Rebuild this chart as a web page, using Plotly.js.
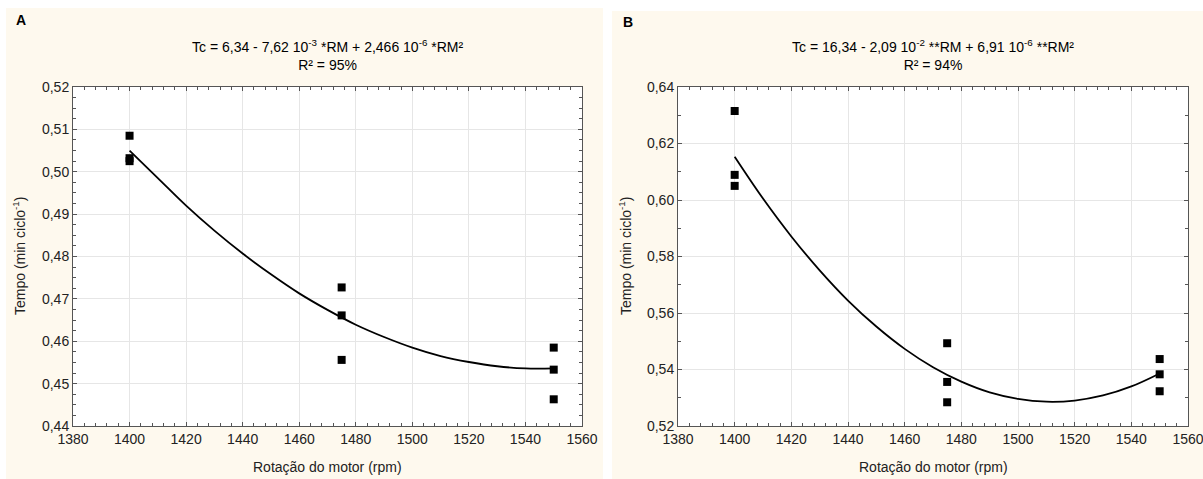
<!DOCTYPE html>
<html>
<head>
<meta charset="utf-8">
<script src="https://cdn.plot.ly/plotly-3.0.1.min.js"></script>
<style>html,body{margin:0;padding:0;background:#fff;}#chart{width:1203px;height:479px;}</style>
</head>
<body>
<div id="chart"></div>
<script>
// Observed data (Rotação do motor, rpm) and cycle times
const rpmObs = [1400, 1400, 1400, 1475, 1475, 1475, 1550, 1550, 1550];
const tempoA = [0.5085, 0.5032, 0.5025, 0.4727, 0.4661, 0.4556, 0.4585, 0.4533, 0.4463];
const tempoB = [0.6315, 0.6089, 0.6050, 0.5493, 0.5356, 0.5284, 0.5437, 0.5383, 0.5323];

// Fitted curves
const rpmFit = [1400, 1410, 1420, 1430, 1440, 1450, 1460, 1470, 1480, 1490, 1500, 1510, 1520, 1530, 1540, 1550];
const fitA = [0.5050, 0.4985, 0.4920, 0.4861, 0.4807, 0.4758, 0.4713, 0.4674, 0.4639, 0.4610, 0.4585, 0.4565, 0.4551, 0.4541, 0.4536, 0.4536];
const fitB = [0.6153, 0.6005, 0.5871, 0.5751, 0.5644, 0.5552, 0.5473, 0.5408, 0.5357, 0.5319, 0.5296, 0.5286, 0.5290, 0.5308, 0.5340, 0.5386];

const titleA = "Tc = 6,34 - 7,62 10<sup>-3</sup> *RM + 2,466 10<sup>-6</sup> *RM²<br>R² = 95%";
const titleB = "Tc = 16,34 - 2,09 10<sup>-2</sup> **RM + 6,91 10<sup>-6</sup> **RM²<br>R² = 94%";
const xTitle = "Rotação do motor (rpm)";
const yTitle = "Tempo (min ciclo<sup>-1</sup>)";

const W = 1203, H = 479;
const px = v => v / W;
const py = v => (H - v) / H;
const FONT = "Liberation Sans, Arial, sans-serif";

const marker = {symbol: 'square', size: 8, color: '#000'};
const traces = [
  {x: rpmFit, y: fitA, mode: 'lines', line: {color: '#000', width: 1.8, shape: 'spline', smoothing: 1}, xaxis: 'x', yaxis: 'y', hoverinfo: 'skip'},
  {x: rpmObs, y: tempoA, mode: 'markers', marker: marker, xaxis: 'x', yaxis: 'y'},
  {x: rpmFit, y: fitB, mode: 'lines', line: {color: '#000', width: 1.8, shape: 'spline', smoothing: 1}, xaxis: 'x2', yaxis: 'y2', hoverinfo: 'skip'},
  {x: rpmObs, y: tempoB, mode: 'markers', marker: marker, xaxis: 'x2', yaxis: 'y2'}
];

function xax(domain, anchor) {
  return {
    domain: domain, anchor: anchor, range: [1380, 1560], dtick: 20, tick0: 1380,
    showline: true, linecolor: '#555', linewidth: 1, mirror: 'allticks',
    ticks: 'inside', ticklen: 4, tickcolor: '#555', ticklabeloverflow: 'allow',
    showgrid: true, gridcolor: '#e6e6e6', gridwidth: 1, zeroline: false,
    minor: {ticks: 'inside', ticklen: 3, dtick: 4, tickcolor: '#555', showgrid: false},
    tickfont: {family: FONT, size: 14, color: '#222'}, fixedrange: true
  };
}
function yax(domain, anchor, range, dtick, mdtick) {
  return {
    domain: domain, anchor: anchor, range: range, dtick: dtick, tick0: range[0], tickformat: '.2f',
    showline: true, linecolor: '#555', linewidth: 1, mirror: 'allticks',
    ticks: 'inside', ticklen: 4, tickcolor: '#555', ticklabeloverflow: 'allow',
    showgrid: true, gridcolor: '#e6e6e6', gridwidth: 1, zeroline: false,
    minor: {ticks: 'inside', ticklen: 3, dtick: mdtick, tickcolor: '#555', showgrid: false},
    tickfont: {family: FONT, size: 14, color: '#222'}, fixedrange: true
  };
}

const yDom = [py(426), py(87)];
const layout = {
  width: W, height: H, margin: {l: 0, r: 0, t: 0, b: 0},
  paper_bgcolor: '#ffffff', plot_bgcolor: 'rgba(0,0,0,0)', showlegend: false,
  separators: ', ',
  font: {family: FONT, size: 14, color: '#222'},
  xaxis: xax([px(73), px(582)], 'y'),
  yaxis: yax(yDom, 'x', [0.44, 0.52], 0.01, 0.0025),
  xaxis2: xax([px(678), px(1188)], 'y2'),
  yaxis2: yax(yDom, 'x2', [0.52, 0.64], 0.02, 0.01),
  shapes: [
    {type: 'rect', xref: 'paper', yref: 'paper', x0: px(6), x1: px(603), y0: 0, y1: py(8), fillcolor: '#fef9ee', line: {width: 0}, layer: 'below'},
    {type: 'rect', xref: 'paper', yref: 'paper', x0: px(612), x1: 1, y0: 0, y1: py(11), fillcolor: '#fef9ee', line: {width: 0}, layer: 'below'},
    {type: 'rect', xref: 'paper', yref: 'paper', x0: px(73), x1: px(582), y0: yDom[0], y1: yDom[1], fillcolor: '#ffffff', line: {width: 0}, layer: 'below'},
    {type: 'rect', xref: 'paper', yref: 'paper', x0: px(678), x1: px(1188), y0: yDom[0], y1: yDom[1], fillcolor: '#ffffff', line: {width: 0}, layer: 'below'}
  ],
  annotations: [
    {text: '<b>A</b>', xref: 'paper', yref: 'paper', x: px(14), y: py(20), xanchor: 'left', yanchor: 'middle', showarrow: false, font: {family: FONT, size: 14, color: '#000'}},
    {text: '<b>B</b>', xref: 'paper', yref: 'paper', x: px(621), y: py(22), xanchor: 'left', yanchor: 'middle', showarrow: false, font: {family: FONT, size: 14, color: '#000'}},
    {text: titleA, xref: 'paper', yref: 'paper', x: px(327), y: py(55), xanchor: 'center', yanchor: 'middle', showarrow: false, font: {family: FONT, size: 14, color: '#000'}},
    {text: titleB, xref: 'paper', yref: 'paper', x: px(933), y: py(55), xanchor: 'center', yanchor: 'middle', showarrow: false, font: {family: FONT, size: 14, color: '#000'}},
    {text: xTitle, xref: 'paper', yref: 'paper', x: px(327), y: py(467), xanchor: 'center', yanchor: 'middle', showarrow: false, font: {family: FONT, size: 14, color: '#222'}},
    {text: xTitle, xref: 'paper', yref: 'paper', x: px(933), y: py(467), xanchor: 'center', yanchor: 'middle', showarrow: false, font: {family: FONT, size: 14, color: '#222'}},
    {text: yTitle, xref: 'paper', yref: 'paper', x: px(19), y: py(256), xanchor: 'center', yanchor: 'middle', textangle: -90, showarrow: false, font: {family: FONT, size: 14, color: '#222'}},
    {text: yTitle, xref: 'paper', yref: 'paper', x: px(625), y: py(256), xanchor: 'center', yanchor: 'middle', textangle: -90, showarrow: false, font: {family: FONT, size: 14, color: '#222'}}
  ]
};

Plotly.newPlot('chart', traces, layout, {displayModeBar: false, staticPlot: true});
</script>
</body>
</html>
